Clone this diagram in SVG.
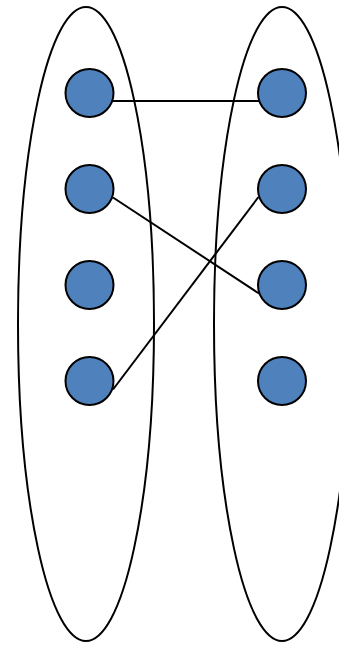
<svg xmlns="http://www.w3.org/2000/svg" width="339" height="645" viewBox="0 0 339 645">
<style>
.set{fill:none;stroke:#000;stroke-width:2}
.node{fill:#4F81BD;stroke:#000;stroke-width:2}
.edge{stroke:#000;stroke-width:2;fill:none}
</style>
<rect width="339" height="645" fill="#fff"/>
<g id="setA"><ellipse class="set" cx="86" cy="324" rx="68" ry="317"/></g>
<g id="setB"><ellipse class="set" cx="282" cy="324" rx="68" ry="317"/></g>
<g id="connectors">
<line class="edge" x1="113" y1="101" x2="259" y2="101"/>
<line class="edge" x1="113" y1="197.5" x2="259" y2="293.5"/>
<line class="edge" x1="113" y1="389.5" x2="258.5" y2="197"/>
</g>
<g id="a1"><circle class="node" cx="89.5" cy="93" r="24"/></g>
<g id="a2"><circle class="node" cx="89.5" cy="189" r="24"/></g>
<g id="a3"><circle class="node" cx="89.5" cy="285" r="24"/></g>
<g id="a4"><circle class="node" cx="89.5" cy="381" r="24"/></g>
<g id="b1"><circle class="node" cx="282" cy="93" r="24"/></g>
<g id="b2"><circle class="node" cx="282" cy="189" r="24"/></g>
<g id="b3"><circle class="node" cx="282" cy="285" r="24"/></g>
<g id="b4"><circle class="node" cx="282" cy="381" r="24"/></g>
</svg>
